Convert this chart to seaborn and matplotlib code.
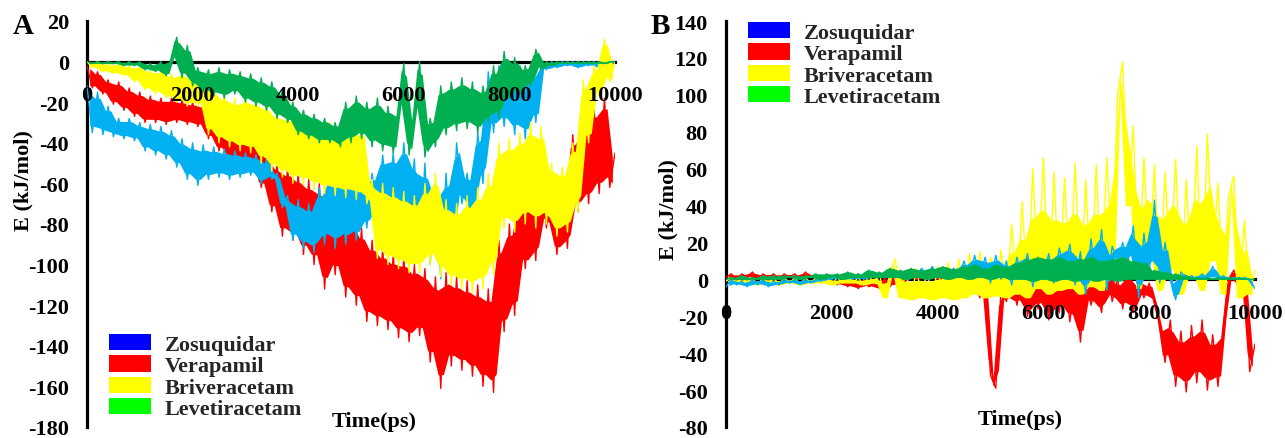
import numpy as np
import pandas as pd
import matplotlib
matplotlib.use('Agg')
import matplotlib.pyplot as plt
import seaborn as sns
from matplotlib.patches import Patch

# ---------------- data (100 ps steps) ----------------
time_ps = np.arange(0, 10001, 100)
compounds = ['Zosuquidar', 'Verapamil', 'Briveracetam', 'Levetiracetam']
x_ticks = [0, 2000, 4000, 6000, 8000, 10000]
yticks_A = list(range(-180, 21, 20))
yticks_B = list(range(-80, 141, 20))

A_zosuquidar = [
    -12, -35, -15, -36, -22, -37, -28, -38, -28, -39,
    -30, -44, -31, -46, -32, -48, -34, -52, -38, -58,
    -40, -61, -41, -58, -42, -57, -43, -58, -44, -57,
    -45, -56, -46, -60, -48, -58, -55, -72, -66, -88,
    -68, -92, -70, -94, -62, -90, -55, -92, -56, -90,
    -58, -88, -60, -82, -55, -76, -46, -74, -45, -78,
    -40, -76, -48, -95, -50, -100, -60, -107, -55, -95,
    -40, -70, -55, -77, -35, -60, -5, -35, -2, -32,
    -4, -36, -2, -38, -5, -30, 0, -4, 0, -3,
    0, -2, 0, -3, 0, -2, 0, -3, 0, -2,
    0]
A_verapamil = [
    -2, -13, -5, -16, -9, -21, -10, -24, -13, -27,
    -15, -30, -17, -30, -18, -31, -18, -30, -19, -31,
    -20, -32, -21, -38, -25, -44, -30, -48, -33, -50,
    -37, -51, -40, -62, -45, -74, -50, -86, -52, -88,
    -55, -95, -58, -100, -60, -112, -65, -105, -68, -116,
    -75, -120, -82, -128, -88, -130, -92, -132, -95, -136,
    -96, -138, -100, -135, -102, -148, -106, -161, -104, -150,
    -106, -152, -108, -155, -110, -160, -112, -163, -88, -133,
    -80, -125, -64, -102, -66, -98, -41, -82, -60, -95,
    -64, -92, -36, -74, -30, -70, -22, -65, -18, -62,
    -45]
A_briveracetam = [
    0, -3, 0, -5, -1, -6, -1, -7, -2, -10,
    -2, -14, -4, -16, -4, -18, -6, -20, -5, -22,
    -7, -22, -8, -36, -13, -40, -16, -42, -18, -44,
    -17, -45, -18, -50, -20, -54, -24, -57, -25, -60,
    -26, -61, -28, -63, -30, -65, -30, -66, -32, -67,
    -30, -68, -32, -70, -58, -97, -60, -100, -62, -102,
    -64, -104, -66, -104, -60, -100, -55, -106, -68, -110,
    -70, -112, -66, -114, -62, -112, -55, -105, -40, -82,
    -38, -84, -35, -80, -30, -82, -32, -80, -50, -86,
    -52, -84, -40, -74, -9, -40, -2, -17, 11, -10,
    0]
A_levetiracetam = [
    0, -1, 0, -1, 0, -1, 0, -2, 0, -2,
    0, -4, -1, -5, 0, -7, 1, 12, -8, 8,
    -12, -3, -15, -4, -17, -3, -18, -4, -16, -5,
    -20, -6, -22, -8, -24, -10, -28, -14, -30, -20,
    -36, -24, -38, -26, -40, -28, -40, -30, -42, -20,
    -40, -17, -38, -20, -42, -18, -44, -22, -45, -24,
    -1, -46, -26, 0, -47, -28, -42, -12, -36, -10,
    -34, -8, -33, -10, -35, -12, -30, -2, -28, 5,
    -18, 2, -16, -2, -12, 6, -4, 0, -2, 0,
    -1, 0, -1, 0, -1, 0, -1, 0, -1, 0,
    0]

B_zosuquidar = [
    -4, 0, -3, -1, -4, 0, -3, 0, -4, -1,
    -3, 0, -2, 0, -3, 0, -2, 0, -1, 1,
    0, 2, 0, 2, 0, 3, 0, 2, 1, 3,
    1, 4, 1, 4, 1, 5, 2, 6, 2, 7,
    1, 6, 0, 5, 1, 10, 0, 13, 2, 12,
    -2, 13, 0, 10, -3, 12, 2, 14, -4, 11,
    2, 14, -2, 17, 4, 19, -3, 15, -8, 22,
    0, 27, -6, 18, 10, 20, 9, 29, -10, 25,
    2, 43, -2, 20, 0, -11, 4, 0, 2, 0,
    3, 0, 7, 0, 2, 0, 1, 0, 1, 0,
    -5]
B_verapamil = [
    1, 3, 0, 3, 1, 4, 0, 3, 1, 3,
    0, 3, 1, 3, 0, 4, 1, 2, 0, 2,
    -1, -3, 0, -4, -1, -5, 0, -4, -2, -5,
    1, -4, 2, -3, 1, 3, 0, 2, 0, 3,
    0, 2, -1, 1, -2, 0, -6, 0, -10, 0,
    -52, -59, -5, -12, 0, -14, 2, -20, 0, -16,
    3, -22, 0, -18, 5, -23, 0, -34, 2, -14,
    -2, -18, 9, -12, 0, -16, 4, -18, 0, -10,
    -2, -12, -24, -45, -22, -58, -28, -61, -25, -56,
    -22, -60, -30, -58, -26, 0, 5, -4, 6, -50,
    -35]
B_briveracetam = [
    -1, 1, -2, 1, -2, 1, -3, 1, -2, 1,
    -3, 1, -2, 1, -3, 1, -2, 1, -2, 2,
    -3, 1, -2, 2, -2, 1, -3, 2, -2, 3,
    -10, 4, 11, -10, 5, -11, 6, -10, 5, -11,
    7, -10, 9, -11, 11, -10, 14, -8, 15, -10,
    12, -9, 16, -10, 30, -8, 42, -10, 60, -5,
    66, -8, 58, -6, 55, -5, 63, -8, 54, -4,
    62, -6, 66, 5, 100, 118, 40, 83, -5, 66,
    10, 62, -6, 58, 5, 65, -8, 54, 2, 72,
    -6, 79, 10, 52, -8, 45, 56, -10, 32, -8,
    5]
B_levetiracetam = [
    0, 1, 0, 2, 0, 1, 0, 2, 0, 2,
    0, 2, 1, 2, 0, 2, 1, 3, 0, 3,
    1, 3, 0, 4, 1, 3, 1, 5, 1, 4,
    1, 6, 1, 5, 0, 6, 1, 5, 0, 6,
    1, 7, 0, 6, 1, 7, 0, 8, 1, 6,
    0, 8, 1, 7, 0, 9, 0, 11, -1, 12,
    0, 11, -1, 12, 0, 10, -1, 11, 0, 12,
    -1, 10, 0, 11, -1, 12, 0, 10, 0, 9,
    0, 5, 0, 4, 0, 3, 0, 2, 0, 1,
    0, 1, 0, 1, 0, 1, 0, 1, 0, 0,
    0]

# ---------------- style ----------------
sns.set_theme(style='white')
plt.rcParams['font.family'] = ['Liberation Serif', 'DejaVu Serif']
plt.rcParams['font.weight'] = 'bold'
plt.rcParams['axes.unicode_minus'] = False

line_colors = {'Zosuquidar': '#00B0F0', 'Verapamil': '#FF0000',
               'Briveracetam': '#FFFF00', 'Levetiracetam': '#00B050'}
legend_colors = ['#0000FF', '#FF0000', '#FFFF00', '#00FF00']

series_A = {'Zosuquidar': A_zosuquidar, 'Verapamil': A_verapamil,
            'Briveracetam': A_briveracetam, 'Levetiracetam': A_levetiracetam}
series_B = {'Zosuquidar': B_zosuquidar, 'Verapamil': B_verapamil,
            'Briveracetam': B_briveracetam, 'Levetiracetam': B_levetiracetam}

W, H = 1285, 439
fig = plt.figure(figsize=(W / 100, H / 100), dpi=100)
fig.patch.set_facecolor('white')
axA = fig.add_axes([87 / W, 1 - 428 / H, 528 / W, 406 / H])
axB = fig.add_axes([726 / W, 1 - 428 / H, 529 / W, 406 / H])


def draw(ax, series, order, core, lw):
    """Dense core of the trace as a band between consecutive samples,
    the samples themselves as a thin zig-zag line for the spikes."""
    for name in order:
        df = pd.DataFrame({'t': time_ps, 'E': series[name]})
        e = df['E'].to_numpy(dtype=float)
        t = df['t'].to_numpy(dtype=float)
        t_mid = (t[1:] + t[:-1]) / 2
        lo = np.minimum(e[1:], e[:-1])
        hi = np.maximum(e[1:], e[:-1])
        rng = hi - lo
        mode, frac = core[name]
        if mode == 'mid':
            c_lo, c_hi = lo + frac * rng, hi - frac * rng
        else:  # 'low': dense part on the lower side, spikes above
            c_lo, c_hi = lo, lo + frac * rng
        ax.fill_between(t_mid, c_lo, c_hi, color=line_colors[name], linewidth=0, zorder=2)
        sns.lineplot(data=df, x='t', y='E', color=line_colors[name], linewidth=lw,
                     estimator=None, sort=False, ax=ax, zorder=2)


draw(axA, series_A, ['Verapamil', 'Zosuquidar', 'Briveracetam', 'Levetiracetam'],
     {'Verapamil': ('mid', 0.12), 'Zosuquidar': ('mid', 0.15),
      'Briveracetam': ('mid', 0.12), 'Levetiracetam': ('mid', 0.14)}, 1.0)
draw(axB, series_B, ['Verapamil', 'Briveracetam', 'Zosuquidar', 'Levetiracetam'],
     {'Verapamil': ('mid', 0.18), 'Briveracetam': ('low', 0.6),
      'Zosuquidar': ('mid', 0.2), 'Levetiracetam': ('mid', 0.0)}, 1.0)


def style(ax, ylim, yticks):
    ax.set_xlim(0, 10000)
    ax.set_ylim(*ylim)
    ax.set_facecolor('none')
    ax.grid(False)
    for s in ['top', 'right']:
        ax.spines[s].set_visible(False)
    ax.spines['left'].set_linewidth(2.3)
    ax.spines['left'].set_color('black')
    ax.spines['bottom'].set_position(('data', 0))
    ax.spines['bottom'].set_linewidth(2.3)
    ax.spines['bottom'].set_color('black')
    for s in ax.spines.values():
        s.set_zorder(1)
    ax.set_xticks(x_ticks)
    ax.set_xticklabels([str(v) for v in x_ticks])
    ax.set_yticks(yticks)
    ax.set_yticklabels([str(v) for v in yticks])
    ax.tick_params(axis='x', length=0, pad=17, labelsize=16, colors='black')
    ax.tick_params(axis='y', length=0, pad=13, labelsize=16, colors='black')
    ax.xaxis.set_zorder(3)
    for lab in ax.get_xticklabels() + ax.get_yticklabels():
        lab.set_fontweight('bold')
    ax.set_xlabel('')
    ax.set_ylabel('')


style(axA, (-180, 20), yticks_A)
style(axB, (-80, 140), yticks_B)

txt = dict(fontweight='bold', color='black')
fig.text(23 / W, 1 - 181 / H, 'E (kJ/mol)', rotation=90, ha='center', va='center', fontsize=16, **txt)
fig.text(668 / W, 1 - 210 / H, 'E (kJ/mol)', rotation=90, ha='center', va='center', fontsize=16, **txt)
fig.text(374 / W, 1 - 422 / H, 'Time(ps)', ha='center', va='center', fontsize=16, **txt)
fig.text(1020 / W, 1 - 420 / H, 'Time(ps)', ha='center', va='center', fontsize=16, **txt)
fig.text(23 / W, 1 - 27 / H, 'A', ha='center', va='center', fontsize=21, **txt)
fig.text(660 / W, 1 - 27 / H, 'B', ha='center', va='center', fontsize=21, **txt)

handles = [Patch(facecolor=c, edgecolor='none', label=n) for c, n in zip(legend_colors, compounds)]
for ax, anchor in [(axA, (109 / W, 1 - 335 / H)), (axB, (748 / W, 1 - 23 / H))]:
    ax.legend(handles=handles, loc='upper left', bbox_to_anchor=anchor,
              bbox_transform=fig.transFigure, frameon=False, borderpad=0,
              borderaxespad=0, handlelength=1.9, handleheight=0.75,
              handletextpad=0.6, labelspacing=0.02,
              prop={'family': 'Liberation Serif', 'weight': 'bold', 'size': 16})

fig.savefig('out.png', dpi=100)
